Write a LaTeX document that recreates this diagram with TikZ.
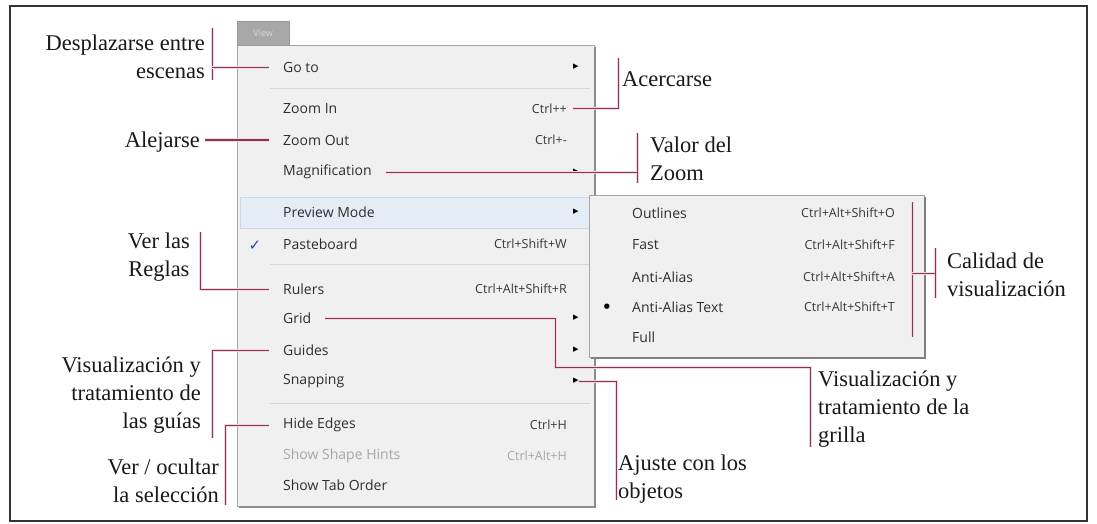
\documentclass[tikz,border=0pt]{standalone}
\usepackage{fontspec}
\setmainfont{Liberation Serif}
\newfontfamily\uifont{Open Sans}
\newfontfamily\symfont{DejaVu Sans}
\definecolor{linec}{RGB}{135,55,80}
\definecolor{haloc}{RGB}{244,214,222}
\definecolor{menubg}{RGB}{240,240,240}
\definecolor{menuedge}{RGB}{165,165,165}
\definecolor{hl}{RGB}{228,236,246}
\definecolor{hledge}{RGB}{202,216,234}
\definecolor{tabc}{RGB}{168,168,168}
\definecolor{checkc}{RGB}{40,80,160}
\begin{document}
\begin{tikzpicture}[x=1pt,y=-1pt,
  lbl/.style={font=\fontsize{22.5}{28}\selectfont, text=black!90, inner sep=0pt},
  item/.style={font=\uifont\fontsize{14}{16}\selectfont, text=black!82, anchor=west, inner xsep=14pt, inner ysep=0pt},
  subitem/.style={font=\uifont\fontsize{14}{16}\selectfont, text=black!82, anchor=west, inner sep=0pt},
  key/.style={font=\uifont\fontsize{12.5}{15}\selectfont, text=black!78, anchor=east, inner sep=0pt},
  off/.style={text=black!35},
  arr/.style={font=\symfont\fontsize{11}{11}\selectfont, text=black, inner sep=0pt},
  conn/.style={draw=linec, line width=1pt, preaction={draw=haloc, line width=3pt}},
  sep/.style={draw=black!16, line width=0.8pt},
]
\useasboundingbox (0,0) rectangle (1097,524);
\fill[white] (0,0) rectangle (1097,524);
% outer frame
\draw[line width=2.5pt, black!80] (10,6) rectangle (1087,521);

% ---- main menu ----
\fill[menubg] (237,45) rectangle (594,506);
\draw[menuedge] (237,45) rectangle (594,506);
\draw[black!45, line width=1.5pt] (595,47) -- (595,507) -- (239,507);
\node[fill=tabc, draw=black!40, minimum width=52pt, minimum height=24pt, anchor=south west,
      inner sep=0pt, font=\uifont\fontsize{9}{9}\selectfont, text=black!15] (tab) at (237,45) {View};

% highlighted row and separators
\fill[hl] (240,197) rectangle (590,228);
\draw[hledge] (240,197) rectangle (590,228);
\draw[sep] (270,88) -- (590,88);
\draw[sep] (270,264) -- (590,264);
\draw[sep] (270,403) -- (590,403);

% menu entries
\node[item] (goto)    at (269,68)  {Go to};
\node[item] (zoomin)  at (269,109) {Zoom In};
\node[item] (zoomout) at (269,140) {Zoom Out};
\node[item] (mag)     at (269,172) {Magnification};
\node[item] (prev)    at (269,212) {Preview Mode};
\node[item] (paste)   at (269,244) {Pasteboard};
\node[item] (rulers)  at (269,289) {Rulers};
\node[item] (grid)    at (269,318) {Grid};
\node[item] (guides)  at (269,350) {Guides};
\node[item] (snap)    at (269,381) {Snapping};
\node[item] (hide)    at (269,425) {Hide Edges};
\node[item, off] (hints) at (269,456) {Show Shape Hints};
\node[item] (taborder) at (269,485) {Show Tab Order};

% shortcuts
\node[key] (zoominKey)  at (567,109) {Ctrl++};
\node[key] (zoomoutKey) at (567,140) {Ctrl+-};
\node[key] (pasteKey)   at (567,244) {Ctrl+Shift+W};
\node[key] (rulersKey)  at (567,289) {Ctrl+Alt+Shift+R};
\node[key] (hideKey)    at (567,425) {Ctrl+H};
\node[key, off] (hintsKey) at (567,456) {Ctrl+Alt+H};

% submenu arrows and check mark
\node[arr] (arrGoto)   at (576,67)  {▸};
\node[arr] (arrMag)    at (576,172) {▸};
\node[arr] (arrPrev)   at (576,212) {▸};
\node[arr] (arrGrid)   at (576,318) {▸};
\node[arr] (arrGuides) at (576,350) {▸};
\node[arr] (arrSnap)   at (576,381) {▸};
\node[font=\symfont\fontsize{15}{15}\selectfont, text=checkc, inner sep=0pt] (check) at (255,246) {✓};

% ---- Preview Mode submenu ----
\fill[menubg] (589,195) rectangle (924,357);
\draw[menuedge] (589,195) rectangle (924,357);
\draw[black!50, line width=1.5pt] (925,197) -- (925,358) -- (591,358);
\node[subitem] (outl) at (632,213) {Outlines};
\node[subitem] (fast) at (632,245) {Fast};
\node[subitem] (aa)   at (632,277) {Anti-Alias};
\node[subitem] (aat)  at (632,307) {Anti-Alias Text};
\node[subitem] (full) at (632,337) {Full};
\node[key] (outlKey) at (895,213) {Ctrl+Alt+Shift+O};
\node[key] (fastKey) at (895,245) {Ctrl+Alt+Shift+F};
\node[key] (aaKey)   at (895,277) {Ctrl+Alt+Shift+A};
\node[key] (aatKey)  at (895,307) {Ctrl+Alt+Shift+T};
\node[font=\symfont\fontsize{7}{7}\selectfont, inner sep=0pt] (dot) at (607,307) {●};

% ---- labels ----
\node[lbl, align=right, anchor=north east] (lGoto) at (205,35) {Desplazarse entre\\escenas};
\node[lbl, anchor=base east] (lOut) at (200,147) {Alejarse};
\node[lbl, anchor=base west] (lIn) at (622,87) {Acercarse};
\node[lbl, align=left, anchor=north west] (lMag) at (650,137) {Valor del\\Zoom};
\node[lbl, align=center, anchor=north east] (lRul) at (190,233) {Ver las\\Reglas};
\node[lbl, align=right, anchor=north east] (lGui) at (201,357) {Visualización y\\tratamiento de\\las guías};
\node[lbl, align=right, anchor=north east] (lSel) at (219,459) {Ver / ocultar\\la selección};
\node[lbl, align=left, anchor=north west] (lGrid) at (818,371) {Visualización y\\tratamiento de la\\grilla};
\node[lbl, align=left, anchor=north west] (lSnap) at (618,455) {Ajuste con los\\objetos};
\node[lbl, align=left, anchor=north west] (lQual) at (947,253) {Calidad de\\visualización};

% ---- connectors and brackets ----
\coordinate (bGotoT) at (212,28);
\coordinate (bGotoB) at (212,80);
\draw[conn] (bGotoT) -- (bGotoB);
\draw[conn] (bGotoT |- goto.west) -- (goto.west);

\draw[conn] ([xshift=5pt]lOut.east |- zoomout.west) -- (zoomout.west);

\coordinate (bInT) at (618,58);
\draw[conn] ([xshift=6pt]zoominKey.east) -| (bInT);

\coordinate (bMagT) at (637,133);
\coordinate (bMagB) at (637,183);
\draw[conn] (bMagT) -- (bMagB);
\draw[conn] (mag.east) -- (mag.east -| bMagT);

\coordinate (bRulT) at (200,232);
\draw[conn] (bRulT) |- (rulers.west);

\coordinate (bGuiB) at (212,438);
\draw[conn] (guides.west) -| (bGuiB);

\coordinate (bSelB) at (225,505);
\draw[conn] (hide.west) -| (bSelB);

\coordinate (gridTurn) at (555,367);
\coordinate (bGridT) at (810,367);
\coordinate (bGridB) at (810,447);
\draw[conn] (grid.east) -| (gridTurn) -- (bGridT) -- (bGridB);

\coordinate (bSnapB) at (616,500);
\draw[conn] (arrSnap.east) -| (bSnapB);

\coordinate (qT) at (912,202);
\coordinate (qB) at (912,337);
\coordinate (qArm) at (912,273);
\coordinate (bQT) at (935,248);
\coordinate (bQB) at (935,298);
\draw[conn] (qT) -- (qB);
\draw[conn] (bQT) -- (bQB);
\draw[conn] (qArm) -- (qArm -| bQT);
\end{tikzpicture}
\end{document}
